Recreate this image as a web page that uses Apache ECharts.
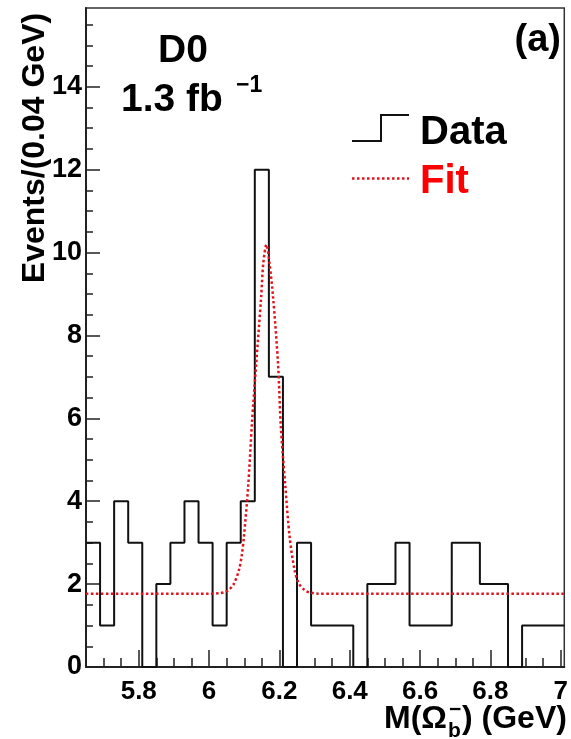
<!DOCTYPE html>
<html>
<head>
<meta charset="utf-8">
<script src="https://cdn.jsdelivr.net/npm/echarts@6/dist/echarts.min.js"></script>
<style>
html, body { margin: 0; padding: 0; background: #fff; }
#main { width: 571px; height: 739px; }
</style>
</head>
<body>
<div id="main"></div>
<script>
// histogram, bins of 0.04 GeV starting at 5.65
var binStart = 5.65;
var binWidth = 0.04;
var counts = [3, 1, 4, 3, 0, 2, 3, 4, 3, 1, 3, 4, 12, 7, 0, 3, 1, 1, 1, 0,
              2, 2, 3, 1, 1, 1, 3, 3, 2, 2, 0, 1, 1, 1];

// fit curve
var fitX = [5.65, 6.00, 6.03, 6.045, 6.056, 6.07, 6.085, 6.093, 6.099, 6.111, 6.122, 6.134,
            6.148, 6.154, 6.163, 6.172, 6.182, 6.196, 6.204, 6.217, 6.229, 6.243, 6.255,
            6.271, 6.285, 6.31, 6.35, 7.01];
var fitY = [1.77, 1.77, 1.78, 1.81, 1.86, 2.0, 2.34, 2.7, 3.14, 4.34, 5.9, 7.32,
            8.92, 9.73, 10.19, 9.73, 8.92, 7.32, 5.8, 4.34, 3.14, 2.34, 2.02,
            1.86, 1.8, 1.77, 1.77, 1.77];

var xMajor = [5.8, 6.0, 6.2, 6.4, 6.6, 6.8, 7.0];
var xMinor = [5.7, 5.75, 5.85, 5.9, 5.95, 6.05, 6.1, 6.15, 6.25, 6.3, 6.35, 6.45, 6.5, 6.55,
              6.65, 6.7, 6.75, 6.85, 6.9, 6.95];
var yMajor = [0, 2, 4, 6, 8, 10, 12, 14];
var yMinor = [0.5, 1, 1.5, 2.5, 3, 3.5, 4.5, 5, 5.5, 6.5, 7, 7.5, 8.5, 9, 9.5,
              10.5, 11, 11.5, 12.5, 13, 13.5, 14.5, 15, 15.5];

var font = 'Liberation Sans, Arial, Helvetica, sans-serif';
var myChart = echarts.init(document.getElementById('main'), null, {renderer: 'canvas'});

var histData = [];
for (var i = 0; i < counts.length; i++) {
    histData.push([binStart + binWidth * i, counts[i]]);
}
histData.push([binStart + binWidth * counts.length, counts[counts.length - 1]]);

var fitData = [];
for (var j = 0; j < fitX.length; j++) {
    fitData.push([fitX[j], fitY[j]]);
}

var option = {
    animation: false,
    grid: {
        left: 86, right: 4, top: 8, bottom: 72,
        show: true, borderColor: '#333', borderWidth: 1.5
    },
    xAxis: [{
        type: 'value', min: 5.65, max: 7.01,
        axisLine: {show: true, lineStyle: {color: '#222', width: 2}},
        axisTick: {show: true, inside: true, length: 17, customValues: xMajor,
            lineStyle: {color: '#222', width: 1.5}},
        axisLabel: {customValues: xMajor, margin: 12, color: '#000',
            fontSize: 26, fontWeight: 'bold', fontFamily: font},
        splitLine: {show: false}
    }, {
        type: 'value', min: 5.65, max: 7.01, position: 'bottom',
        axisLine: {show: false},
        axisTick: {show: true, inside: true, length: 9, customValues: xMinor,
            lineStyle: {color: '#222', width: 1.5}},
        axisLabel: {show: false},
        splitLine: {show: false}
    }],
    yAxis: [{
        type: 'value', min: 0, max: 15.9,
        axisLine: {show: true, lineStyle: {color: '#222', width: 2}},
        axisTick: {show: true, inside: true, length: 14, customValues: yMajor,
            lineStyle: {color: '#222', width: 1.5}},
        axisLabel: {customValues: yMajor, margin: 4, color: '#000',
            fontSize: 27, fontWeight: 'bold', fontFamily: font},
        splitLine: {show: false}
    }, {
        type: 'value', min: 0, max: 15.9, position: 'left',
        axisLine: {show: false},
        axisTick: {show: true, inside: true, length: 7, customValues: yMinor,
            lineStyle: {color: '#222', width: 1.5}},
        axisLabel: {show: false},
        splitLine: {show: false}
    }],
    series: [{
        name: 'Data',
        type: 'line',
        step: 'end',
        xAxisIndex: 0, yAxisIndex: 0,
        symbol: 'none',
        lineStyle: {color: '#111', width: 2},
        data: histData,
        z: 3
    }, {
        name: 'Fit',
        type: 'line',
        xAxisIndex: 0, yAxisIndex: 0,
        symbol: 'none',
        smooth: 0.3,
        lineStyle: {color: '#e0141e', width: 2.5, type: [2.5, 2.5]},
        data: fitData,
        z: 4
    }],
    graphic: [
        // y title
        {type: 'text', x: 35, y: 148, rotation: Math.PI / 2,
            style: {text: 'Events/(0.04 GeV)', fill: '#000', font: 'bold 32px ' + font,
                textAlign: 'center', textVerticalAlign: 'middle'}},
        // x title
        {type: 'text', x: 447, y: 719,
            style: {text: 'M(\u03A9', fill: '#000', font: 'bold 32px ' + font,
                textAlign: 'right', textVerticalAlign: 'middle'}},
        {type: 'text', x: 448, y: 731,
            style: {text: 'b', fill: '#000', font: 'bold 21px ' + font,
                textAlign: 'left', textVerticalAlign: 'middle'}},
        {type: 'text', x: 449, y: 710,
            style: {text: '\u2212', fill: '#000', font: 'bold 21px ' + font,
                textAlign: 'left', textVerticalAlign: 'middle'}},
        {type: 'text', x: 462, y: 719,
            style: {text: ') (GeV)', fill: '#000', font: 'bold 32px ' + font,
                textAlign: 'left', textVerticalAlign: 'middle'}},
        // labels
        {type: 'text', x: 183, y: 51,
            style: {text: 'D0', fill: '#000', font: 'bold 39px ' + font,
                textAlign: 'center', textVerticalAlign: 'middle'}},
        {type: 'text', x: 121, y: 100,
            style: {text: '1.3 fb', fill: '#000', font: 'bold 39px ' + font,
                textAlign: 'left', textVerticalAlign: 'middle'}},
        {type: 'text', x: 236, y: 86,
            style: {text: '\u22121', fill: '#000', font: 'bold 23px ' + font,
                textAlign: 'left', textVerticalAlign: 'middle'}},
        {type: 'text', x: 561, y: 41,
            style: {text: '(a)', fill: '#000', font: 'bold 38px ' + font,
                textAlign: 'right', textVerticalAlign: 'middle'}},
        // legend
        {type: 'polyline', shape: {points: [[352, 141], [381, 141], [381, 115], [409, 115]]},
            style: {stroke: '#111', lineWidth: 2, fill: null}},
        {type: 'text', x: 420, y: 133,
            style: {text: 'Data', fill: '#000', font: 'bold 40px ' + font,
                textAlign: 'left', textVerticalAlign: 'middle'}},
        {type: 'line', shape: {x1: 352, y1: 178.5, x2: 409, y2: 178.5},
            style: {stroke: '#e0141e', lineWidth: 2.5, lineDash: [2.5, 2.5]}},
        {type: 'text', x: 420, y: 182,
            style: {text: 'Fit', fill: '#ff0000', font: 'bold 40px ' + font,
                textAlign: 'left', textVerticalAlign: 'middle'}}
    ]
};

myChart.setOption(option);
</script>
</body>
</html>
